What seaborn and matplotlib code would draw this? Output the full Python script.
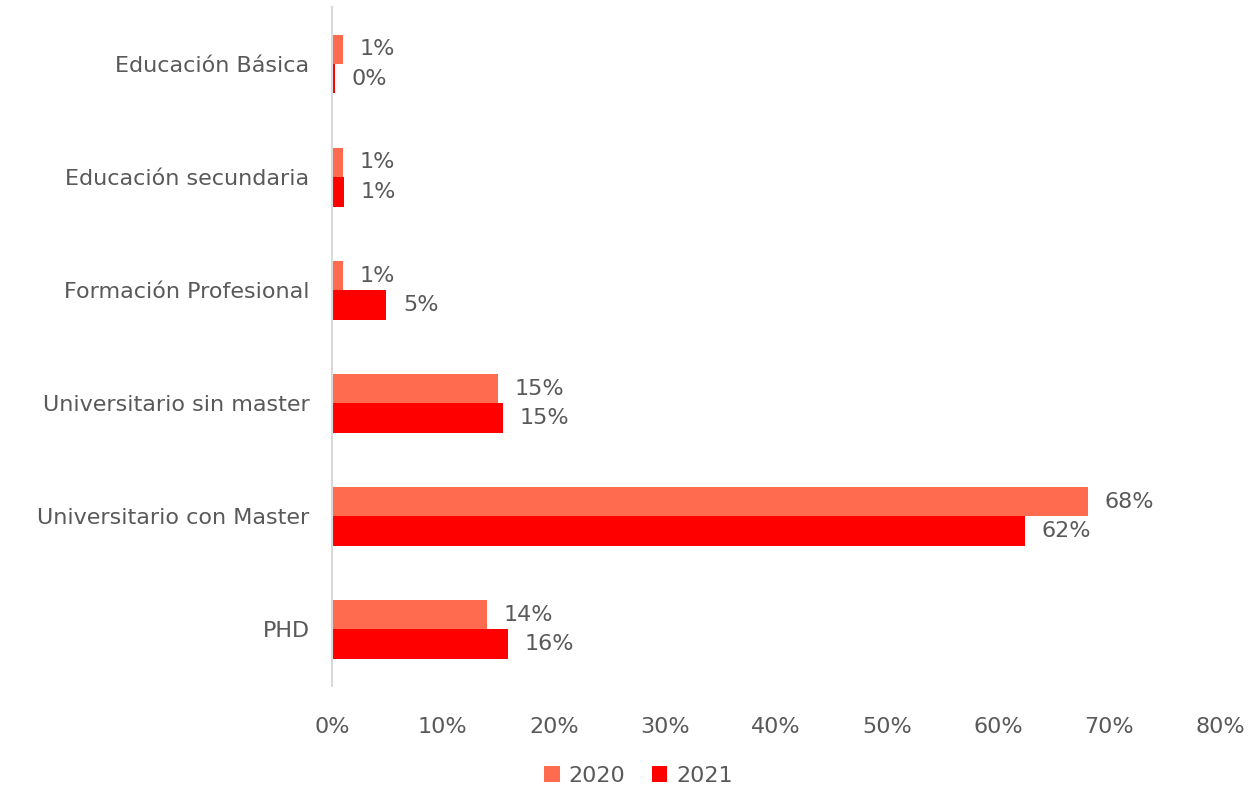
import matplotlib
matplotlib.use("Agg")
import matplotlib.pyplot as plt
import seaborn as sns
import pandas as pd
from matplotlib.ticker import PercentFormatter

categories = ["Educación Básica", "Educación secundaria", "Formación Profesional",
              "Universitario sin master", "Universitario con Master", "PHD"]
years = ["2020", "2021"]
values_2020 = [1.0, 1.0, 1.0, 15.0, 68.1, 14.0]
values_2021 = [0.25, 1.1, 4.9, 15.4, 62.4, 15.9]

df = pd.DataFrame({
    "Nivel": categories * 2,
    "Año": [years[0]] * len(categories) + [years[1]] * len(categories),
    "Valor": values_2020 + values_2021,
})

sns.set_theme(style="white")
plt.rcParams["font.family"] = ["DejaVu Sans"]
text_color = "#595959"

fig = plt.figure(figsize=(12.52, 7.89), dpi=100)
ax = fig.add_axes([0.265, 0.1305, 0.7095, 0.86])

sns.barplot(data=df, x="Valor", y="Nivel", hue="Año", orient="h",
            palette=["#FF6B4F", "#FF0000"], width=0.52, saturation=1,
            linewidth=0, ax=ax, legend=True)

for cont in ax.containers:
    ax.bar_label(cont, labels=[f"{v:.0f}%" for v in cont.datavalues],
                 padding=12, fontsize=16, color=text_color)

ax.set_xlim(0, 80)
ax.set_ylim(5.5, -0.5)
ax.xaxis.set_major_formatter(PercentFormatter(decimals=0))
ax.set_xticks(range(0, 81, 10))
ax.set_xlabel("")
ax.set_ylabel("")
ax.tick_params(axis="x", labelsize=16, colors=text_color, length=0, pad=22)
ax.tick_params(axis="y", labelsize=16, colors=text_color, length=0, pad=16)
for s in ["top", "right", "bottom"]:
    ax.spines[s].set_visible(False)
ax.spines["left"].set_color("#D9D9D9")
ax.spines["left"].set_linewidth(1.5)

handles, labels = ax.get_legend_handles_labels()
ax.get_legend().remove()
leg = fig.legend(handles, labels, loc="center", bbox_to_anchor=(0.51, 0.017), ncol=2,
                 frameon=False, fontsize=16, handlelength=0.7, handleheight=0.7,
                 handletextpad=0.4, columnspacing=1.2)
for t in leg.get_texts():
    t.set_color(text_color)

fig.savefig("out.png", dpi=100)
